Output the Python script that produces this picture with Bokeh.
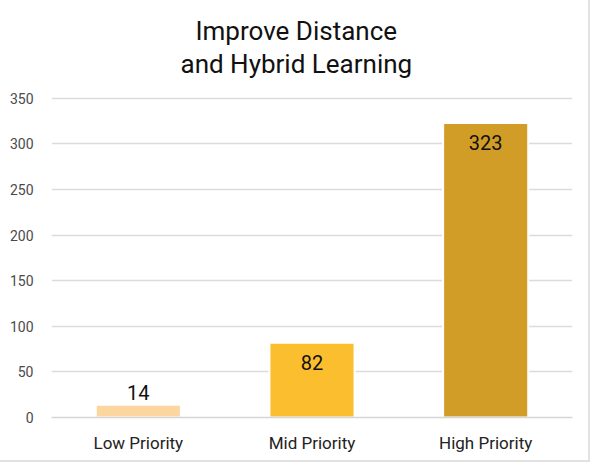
from bokeh.plotting import figure
from bokeh.models import Range1d, ColumnDataSource, Title
from bokeh.core.properties import value
from bokeh.embed import file_html
from bokeh.resources import INLINE

categories = ["Low Priority", "Mid Priority", "High Priority"]
counts = [14, 82, 323]
colors = ["#FDD69F", "#FBBE2E", "#D19D26"]
y_ticks = [0, 50, 100, 150, 200, 250, 300, 350]
title_lines = ["Improve Distance", "and Hybrid Learning"]

FONT = "Roboto"

p = figure(x_range=categories, y_range=Range1d(0, 352),
           width=590, height=462, output_backend="svg", toolbar_location=None,
           min_border_left=51, min_border_right=18, min_border_top=96, min_border_bottom=45)
p.styles = {"border-right": "2px solid #e2e2e2", "border-bottom": "2px solid #e2e2e2"}

src = ColumnDataSource(dict(cat=categories, val=counts, col=colors))
p.vbar(x="cat", top="val", width=0.49, fill_color="col", line_color="white",
       line_width=2, source=src)

inside = ColumnDataSource(dict(cat=[c for c, v in zip(categories, counts) if v > 50],
                               val=[v for v in counts if v > 50],
                               lab=[str(v) for v in counts if v > 50]))
above = ColumnDataSource(dict(cat=[c for c, v in zip(categories, counts) if v <= 50],
                              val=[v for v in counts if v <= 50],
                              lab=[str(v) for v in counts if v <= 50]))
p.text(x="cat", y="val", text="lab", source=inside, y_offset=20,
       text_align="center", text_baseline="middle", text_font=value(FONT),
       text_font_size="20px", text_color="#111111")
p.text(x="cat", y="val", text="lab", source=above, y_offset=-12,
       text_align="center", text_baseline="middle", text_font=value(FONT),
       text_font_size="20px", text_color="#111111")

# title lines: panel nearest the frame first; left-aligned with offsets so each
# line is centred on the whole canvas rather than on the frame
title_offsets = {"and Hybrid Learning": 129, "Improve Distance": 144}
title_standoffs = {"and Hybrid Learning": 35, "Improve Distance": -33}
for line in reversed(title_lines):
    p.add_layout(Title(text=line, align="left", offset=title_offsets[line],
                       standoff=title_standoffs[line],
                       text_font=FONT, text_font_size="26px", text_font_style="normal",
                       text_color="#111111"), "above")

p.outline_line_color = None
p.xgrid.grid_line_color = None
p.ygrid.grid_line_color = "#dcdcdc"
p.ygrid.grid_line_width = 1.5
p.yaxis.ticker = y_ticks
p.yaxis.axis_line_color = None
p.yaxis.major_tick_line_color = None
p.yaxis.minor_tick_line_color = None
p.yaxis.major_label_text_font = FONT
p.yaxis.major_label_text_font_size = "14px"
p.yaxis.major_label_text_color = "#4a4a4a"
p.yaxis.major_label_standoff = 12

p.xaxis.axis_line_color = "#d6d6d6"
p.xaxis.axis_line_width = 1.5
p.xaxis.major_tick_line_color = None
p.xaxis.minor_tick_line_color = None
p.xaxis.major_label_text_font = FONT
p.xaxis.major_label_text_font_size = "17px"
p.xaxis.major_label_text_color = "#222222"
p.xaxis.major_label_standoff = 9

p.x_range.range_padding = 0.0
p.background_fill_color = "white"
p.border_fill_color = "white"

open("out.html", "w").write(file_html(p, INLINE))
